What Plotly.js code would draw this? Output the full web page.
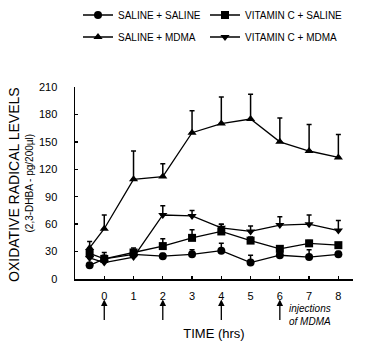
<!DOCTYPE html>
<html>
<head>
<meta charset="utf-8">
<script src="https://cdn.plot.ly/plotly-3.0.1.min.js"></script>
<style>html,body{margin:0;padding:0;background:#fff;}#chart{width:374px;height:350px;}</style>
</head>
<body>
<div id="chart"></div>
<script>
// Time points (hrs); -0.5 is the baseline sample
const timeHrs = [-0.5, 0, 1, 2, 3, 4, 5, 6, 7, 8];

const salineSaline     = [15, 22, 27, 25, 27, 31, 18, 26, 24, 27];
const salineSalineErr  = [2, 3, 2, 3, 5, 8, 8, 5, 8, 3];

const vitCSaline       = [28, 22, 29, 36, 45, 52, 42, 33, 39, 37];
const vitCSalineErr    = [3, 4, 3, 8, 9, 8, 4, 3, 3, 2];

const salineMDMA       = [34, 55, 109, 112, 160, 170, 175, 150, 140, 133];
const salineMDMAErr    = [7, 15, 31, 14, 24, 29, 27, 26, 29, 25];

const vitCMDMA         = [23, 18, 24, 70, 69, 56, 52, 59, 60, 53];
const vitCMDMAErr      = [3, 11, 10, 10, 6, 4, 6, 9, 10, 11];

const injectionTimes = [0, 2, 4, 6];
const xTicks = [0, 1, 2, 3, 4, 5, 6, 7, 8];
const yTicks = [0, 30, 60, 90, 120, 150, 180, 210];

const FONT = 'Liberation Sans, Arial, sans-serif';

function series(name, y, err, symbol, legend) {
  return {
    type: 'scatter', mode: 'lines+markers', name: name,
    x: timeHrs, y: y, legend: legend,
    line: {color: '#000', width: 1.3},
    marker: {symbol: symbol, size: 8, color: '#000'},
    error_y: {type: 'data', symmetric: false, array: err,
              arrayminus: err.map(() => 0), color: '#000', thickness: 1.5, width: 2.5}
  };
}

const traces = [
  series('SALINE + SALINE', salineSaline, salineSalineErr, 'circle', 'legend'),
  series('VITAMIN C + SALINE', vitCSaline, vitCSalineErr, 'square', 'legend2'),
  series('SALINE + MDMA', salineMDMA, salineMDMAErr, 'triangle-up', 'legend3'),
  series('VITAMIN C + MDMA', vitCMDMA, vitCMDMAErr, 'triangle-down', 'legend4')
];

const annotations = injectionTimes.map(t => ({
  x: t, xref: 'x', y: -0.107, yref: 'paper',
  showarrow: true, ax: 0, ay: 22, arrowhead: 2, arrowsize: 1, arrowwidth: 1.3,
  arrowcolor: '#000', text: ''
}));
annotations.push({
  x: injectionTimes[injectionTimes.length - 1], xref: 'x', xanchor: 'left', xshift: 7,
  y: -0.185, yref: 'paper', yanchor: 'middle', showarrow: false, align: 'left',
  text: '<i>injections<br>of MDMA</i>', font: {family: FONT, size: 10, color: '#000'}
});
annotations.push({
  x: 0, xref: 'paper', xshift: -71, y: 0.49, yref: 'paper', showarrow: false,
  textangle: -90, text: 'OXIDATIVE RADICAL LEVELS',
  font: {family: FONT, size: 14, color: '#000'}
});
annotations.push({
  x: 0, xref: 'paper', xshift: -54, y: 0.5, yref: 'paper', showarrow: false,
  textangle: -90, text: '(2,3-DHBA - pg/200µl)',
  font: {family: FONT, size: 10, color: '#000'}
});

function legendAt(xpx, ymid) {
  return {
    orientation: 'h', xref: 'container', yref: 'container',
    x: xpx / 374, xanchor: 'left', y: 1 - ymid / 350, yanchor: 'middle',
    font: {family: FONT, size: 10, color: '#000'},
    bgcolor: 'rgba(0,0,0,0)', borderwidth: 0
  };
}

const layout = {
  width: 374, height: 350,
  margin: {l: 75, r: 21, t: 87, b: 70.5, autoexpand: false},
  paper_bgcolor: '#fff', plot_bgcolor: '#fff',
  font: {family: FONT, size: 11, color: '#000'},
  showlegend: true,
  legend: legendAt(78, 15),
  legend2: legendAt(205, 15),
  legend3: legendAt(78, 37),
  legend4: legendAt(205, 37),
  xaxis: {
    range: [-1, 8.5], tickmode: 'array', tickvals: xTicks,
    ticks: 'inside', ticklen: 3, tickcolor: '#000', tickwidth: 1.3,
    showline: true, linecolor: '#000', linewidth: 1.5,
    showgrid: false, zeroline: false, ticklabelstandoff: 6,
    tickfont: {family: FONT, size: 11},
    title: {text: 'TIME (hrs)', font: {family: FONT, size: 13}, standoff: 28}
  },
  yaxis: {
    range: [0, 210], tickmode: 'array', tickvals: yTicks,
    ticks: 'inside', ticklen: 3, tickcolor: '#000', tickwidth: 1.3,
    showline: true, linecolor: '#000', linewidth: 1.5,
    showgrid: false, zeroline: false, ticklabelstandoff: 14,
    tickfont: {family: FONT, size: 11}
  },
  annotations: annotations
};

Plotly.newPlot('chart', traces, layout, {displayModeBar: false, staticPlot: true});
</script>
</body>
</html>
